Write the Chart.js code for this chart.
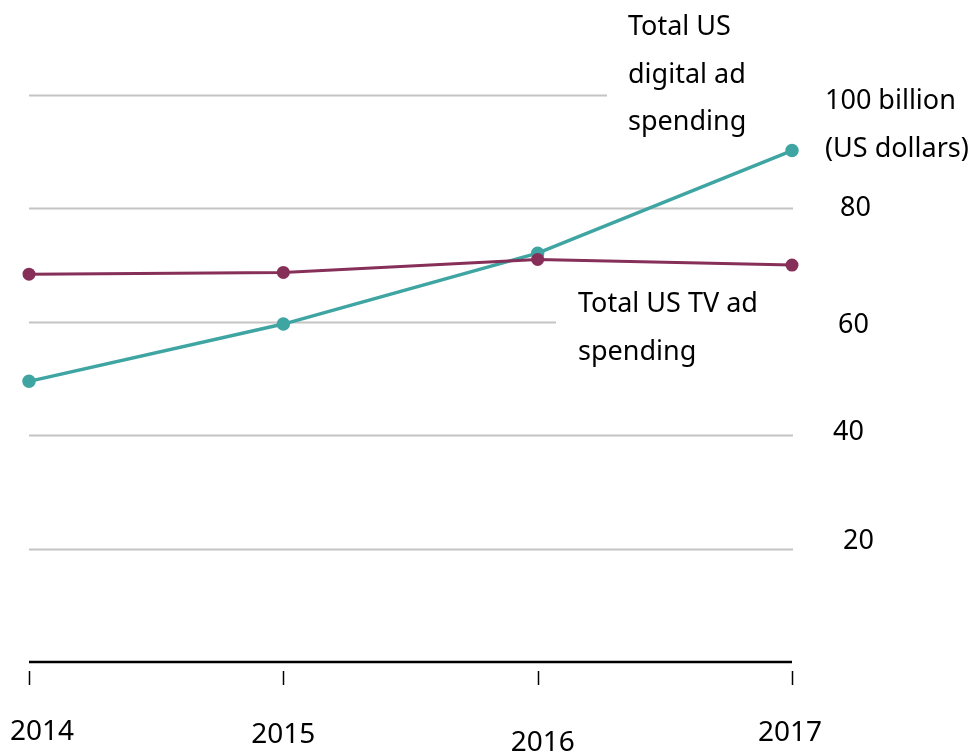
<!DOCTYPE html>
<html>
<head>
<meta charset="utf-8">
<script src="https://cdn.jsdelivr.net/npm/chart.js@4/dist/chart.umd.min.js"></script>
<style>
  html, body { margin: 0; padding: 0; background: #ffffff; }
  #wrap { width: 975px; height: 754px; position: relative; }
</style>
</head>
<body>
<div id="wrap"><canvas id="chart"></canvas></div>
<script>
const years = ['2014', '2015', '2016', '2017'];
const digitalSpend = [49.5, 59.6, 72.1, 90.2];
const tvSpend = [68.4, 68.7, 71.0, 70.0];
const yTicks = [20, 40, 60, 80, 100];

const colors = {
  digital: '#3fa5a2',
  tv: '#862f58',
  grid: '#c4c4c4',
  text: '#000000'
};
const FONT = '"Noto Sans", sans-serif';

// grid lines, axis, tick marks and all text drawn by hand
const decorations = {
  id: 'decorations',
  beforeDatasetsDraw(chart) {
    const { ctx, chartArea, scales } = chart;
    const x = scales.x, y = scales.y;
    ctx.save();

    // gridlines (100 and 60 are cut short by the labels)
    const gridEnds = { 100: 607, 60: 556 };
    ctx.strokeStyle = colors.grid;
    ctx.lineWidth = 2;
    yTicks.forEach(v => {
      const py = Math.round(y.getPixelForValue(v)) + 0.5;
      ctx.beginPath();
      ctx.moveTo(chartArea.left, py);
      ctx.lineTo(gridEnds[v] || chartArea.right + 1, py);
      ctx.stroke();
    });

    // x axis line
    ctx.strokeStyle = '#000';
    ctx.lineWidth = 2.5;
    const base = y.getPixelForValue(0);
    ctx.beginPath();
    ctx.moveTo(chartArea.left, base);
    ctx.lineTo(chartArea.right, base);
    ctx.stroke();

    // tick marks
    ctx.lineWidth = 1.5;
    years.forEach((yr, i) => {
      const px = Math.round(x.getPixelForValue(i)) + 0.5;
      ctx.beginPath();
      ctx.moveTo(px, base + 9);
      ctx.lineTo(px, base + 23);
      ctx.stroke();
    });

    ctx.fillStyle = colors.text;
    ctx.textBaseline = 'middle';

    // x labels (staggered as in the original)
    ctx.font = '28px ' + FONT;
    const xLabelDy = [70, 73, 81, 71];
    const xLabelDx = [13, 0, 5, -2];
    ctx.textAlign = 'center';
    years.forEach((yr, i) => {
      ctx.fillText(yr, x.getPixelForValue(i) + xLabelDx[i], base + xLabelDy[i]);
    });

    // y labels on the right
    ctx.font = '27px ' + FONT;
    ctx.textAlign = 'left';
    const yLabelDx = { 20: 51, 40: 41, 60: 46, 80: 48 };
    const yLabelDy = { 20: -7, 40: -3, 60: 4, 80: 0 };
    [20, 40, 60, 80].forEach(v => {
      ctx.fillText(String(v), chartArea.right + yLabelDx[v], y.getPixelForValue(v) + yLabelDy[v]);
    });
    ctx.fillText('100 billion', chartArea.right + 33, y.getPixelForValue(100) + 6);
    ctx.fillText('(US dollars)', chartArea.right + 33, y.getPixelForValue(100) + 54);

    // series annotations
    ctx.fillText('Total US', 628, 27);
    ctx.fillText('digital ad', 628, 75);
    ctx.fillText('spending', 628, 122);
    ctx.fillText('Total US TV ad', 578, 304);
    ctx.fillText('spending', 578, 352);

    ctx.restore();
  }
};

new Chart(document.getElementById('chart'), {
  type: 'line',
  data: {
    labels: years,
    datasets: [
      {
        label: 'Total US TV ad spending',
        data: tvSpend,
        borderColor: colors.tv,
        backgroundColor: colors.tv,
        borderWidth: 3,
        pointRadius: 5,
        pointHoverRadius: 5,
        tension: 0
      },
      {
        label: 'Total US digital ad spending',
        data: digitalSpend,
        borderColor: colors.digital,
        backgroundColor: colors.digital,
        borderWidth: 3.5,
        pointRadius: 5,
        pointHoverRadius: 5,
        tension: 0
      }
    ]
  },
  options: {
    responsive: true,
    maintainAspectRatio: false,
    animation: false,
    layout: { padding: { left: 29, right: 183, top: 95, bottom: 92 } },
    plugins: {
      legend: { display: false },
      tooltip: { enabled: false }
    },
    scales: {
      x: { display: false, offset: false },
      y: { display: false, min: 0, max: 100 }
    }
  },
  plugins: [decorations]
});
</script>
</body>
</html>
